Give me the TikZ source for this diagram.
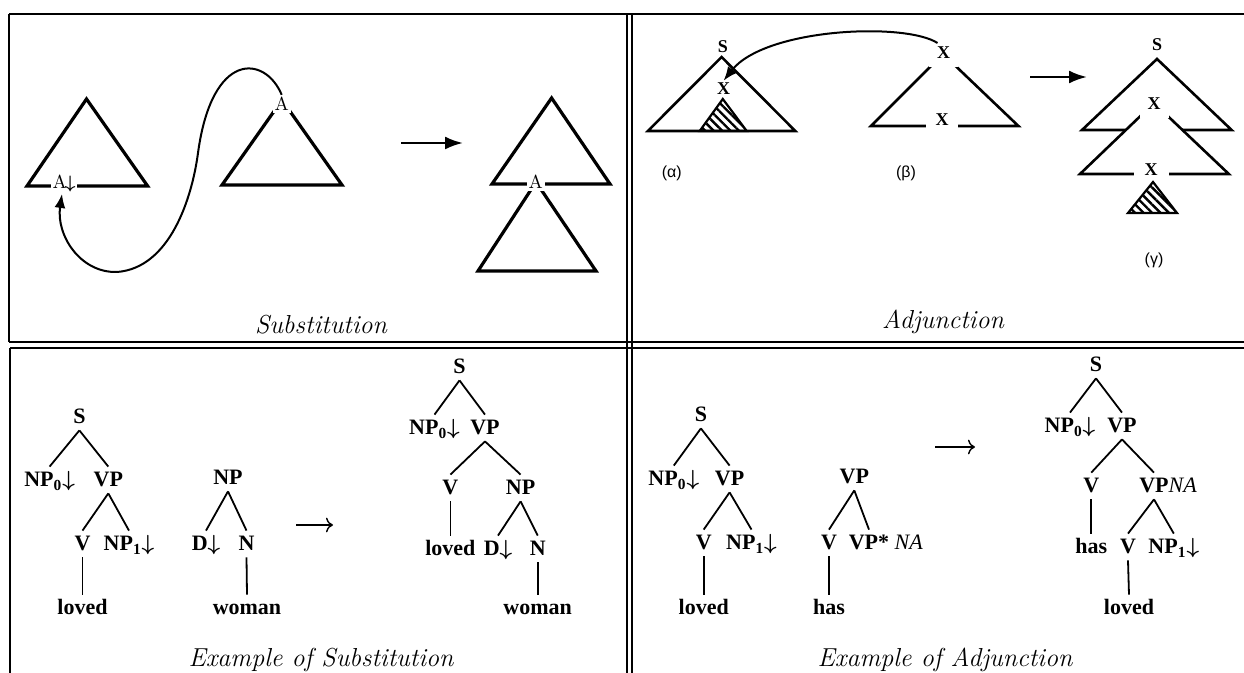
\documentclass[tikz,border=0pt]{standalone}
\usepackage{fontspec}
\usepackage{tikz}
\usetikzlibrary{arrows.meta,patterns.meta}
\newfontfamily\treeFont{Liberation Serif}
\newfontfamily\tagFont{Liberation Sans}
\newcommand{\dnArr}{{\boldmath$\downarrow$}}

\tikzset{
  panelLine/.style={line width=1.1pt},
  bigTri/.style={line width=1.6pt, line join=miter},
  thinTri/.style={line width=1.3pt, line join=miter},
  hatchTri/.style={line width=1.1pt, pattern={Lines[angle=-45,distance=3pt,line width=1.2pt]}},
  schemaA/.style={font=\fontsize{9.5}{11}\selectfont, fill=white, inner sep=1pt},
  schemaX/.style={font=\treeFont\bfseries\fontsize{9}{10}\selectfont, inner sep=1pt},
  maskX/.style={schemaX, fill=white, inner sep=4pt},
  tagLbl/.style={font=\tagFont\fontsize{8}{10}\selectfont},
  capLbl/.style={font=\itshape\fontsize{13}{15}\selectfont},
  treeLbl/.style={font=\treeFont\bfseries\fontsize{11}{13}\selectfont, text height=7.5pt, text depth=0.5pt, inner sep=2.5pt},
  treeEdge/.style={line width=0.9pt},
  fatArr/.style={line width=1.2pt, -{Latex[length=9pt,width=6.5pt]}},
  bendArr/.style={line width=1pt, -{Latex[length=7pt,width=5.5pt]}},
  slimArr/.style={line width=0.7pt, -{To[length=3.5pt]}}
}

\begin{document}
\begin{tikzpicture}[x=0.5pt,y=-0.5pt]
\useasboundingbox (0,0) rectangle (1244,673);

% panel frame
\draw[panelLine] (9,14) -- (1244,14);
\draw[panelLine] (9,342) -- (1244,342);
\draw[panelLine] (10,348) -- (1244,348);
\draw[panelLine] (9,14) -- (9,342);
\draw[panelLine] (10,348) -- (10,673);
\draw[panelLine] (627,14) -- (627,673);
\draw[panelLine] (632,14) -- (632,673);

% substitution, schematic
\draw[bigTri] (86.5,99) -- (147.6,186) -- (27,186) -- cycle;
\draw[bigTri] (282,100) -- (342,185) -- (222,185) -- cycle;
\draw[bigTri] (551.6,98) -- (610,184) -- (492,184) -- cycle;
\draw[bigTri] (536,182) -- (596,271) -- (478,271) -- cycle;
\node[schemaA] (subFoot) at (64,183) {A\kern-1pt\dnArr};
\node[schemaA] (subRoot) at (281.7,104) {A};
\node[schemaA] (subJoin) at (535.7,182) {A};
\coordinate (subArrL) at (401,143);
\coordinate (subArrR) at (463,143);
\draw[fatArr] (subArrL) -- (subArrR);
\draw[bendArr] (subRoot.north) .. controls (265,55) and (212,50) .. (198,153)
  .. controls (192,198) and (170,268) .. (117,272)
  .. controls (80,273) and (56,235) .. ([xshift=-1pt]subFoot.south);
\node[capLbl] (subCap) at (321,325) {Substitution};

% adjunction, schematic
\draw[thinTri] (721.6,57) -- (795.3,131) -- (647.9,131) -- cycle;
\draw[hatchTri] (722.8,99) -- (746.7,131) -- (699.7,131) -- cycle;
\node[schemaX] (alphaS) at (722.8,47) {S};
\node[schemaX] (alphaX) at (723.6,89) {X};
\node[tagLbl] (alphaTag) at (671.8,173) {(α)};

\draw[thinTri] (943,54) -- (1018.4,126) -- (871,126) -- cycle;
\node[maskX] (betaTop) at (943.5,53) {X};
\node[maskX, inner xsep=4.6pt, inner ysep=1pt] (betaFoot) at (942,120) {X};
\node[tagLbl] (betaTag) at (906,173) {(β)};
\draw[bendArr] ([shift={(-3pt,5pt)}]betaTop.center) .. controls (905,22) and (765,28) .. (alphaX.north);

\coordinate (adjArrL) at (1030,77);
\coordinate (adjArrR) at (1087,77);
\draw[fatArr] (adjArrL) -- (adjArrR);

\draw[thinTri] (1157,59) -- (1231.6,130) -- (1082,130) -- cycle;
\draw[thinTri, fill=white] (1154,103) -- (1228.8,174) -- (1080,174) -- cycle;
\node[schemaX] (gammaS) at (1157,45) {S};
\node[maskX] (gammaMid) at (1154,104) {X};
\node[maskX, inner xsep=5.5pt, inner ysep=1pt] (gammaFoot) at (1151,170) {X};
\draw[hatchTri] (1153,182) -- (1177,213) -- (1128,213) -- cycle;
\node[tagLbl] (gammaTag) at (1154,260) {(γ)};
\node[capLbl] (adjCap) at (943,322) {Adjunction};

% example of substitution
\node[treeLbl] (lovS) at (79.4,417) {S};
\node[treeLbl] (lovNPa) at (49.6,480) {NP\textsubscript{0}\dnArr};
\node[treeLbl] (lovVP) at (108.3,480) {VP};
\node[treeLbl] (lovV) at (82.5,544) {V};
\node[treeLbl] (lovNPb) at (129,544) {NP\textsubscript{1}\dnArr};
\node[treeLbl] (lovW) at (82.5,608) {loved};
\draw[treeEdge] (lovS.south) -- (lovNPa.north);
\draw[treeEdge] (lovS.south) -- (lovVP.north);
\draw[treeEdge] (lovVP.south) -- (lovV.north);
\draw[treeEdge] (lovVP.south) -- (lovNPb.north);
\draw[treeEdge] (lovV.south) -- (lovW.north);

\node[treeLbl] (womNP) at (228,478) {NP};
\node[treeLbl] (womD) at (206,544) {D\dnArr};
\node[treeLbl] (womN) at (246.5,544) {N};
\node[treeLbl] (womW) at (247,608) {woman};
\draw[treeEdge] (womNP.south) -- (womD.north);
\draw[treeEdge] (womNP.south) -- (womN.north);
\draw[treeEdge] (womN.south) -- (womW.north);

\coordinate (exSubL) at (296,525);
\coordinate (exSubR) at (333,525);
\draw[slimArr] (exSubL) -- (exSubR);

\node[treeLbl] (resS) at (459.5,367) {S};
\node[treeLbl] (resNPa) at (434.5,428) {NP\textsubscript{0}\dnArr};
\node[treeLbl] (resVP) at (485,428) {VP};
\node[treeLbl] (resV) at (450.4,488) {V};
\node[treeLbl] (resNP) at (520.6,488) {NP};
\node[treeLbl] (resLoved) at (450.4,549) {loved};
\node[treeLbl] (resD) at (498,549) {D\dnArr};
\node[treeLbl] (resN) at (537.7,549) {N};
\node[treeLbl] (resWoman) at (537.7,608) {woman};
\draw[treeEdge] (resS.south) -- (resNPa.north);
\draw[treeEdge] (resS.south) -- (resVP.north);
\draw[treeEdge] (resVP.south) -- (resV.north);
\draw[treeEdge] (resVP.south) -- (resNP.north);
\draw[treeEdge] (resV.south) -- (resLoved.north);
\draw[treeEdge] (resNP.south) -- (resD.north);
\draw[treeEdge] (resNP.south) -- (resN.north);
\draw[treeEdge] (resN.south) -- (resWoman.north);
\node[capLbl] (exSubCap) at (321,660) {Example of Substitution};

% example of adjunction
\node[treeLbl] (adjS) at (700.9,415) {S};
\node[treeLbl] (adjNPa) at (673.8,479) {NP\textsubscript{0}\dnArr};
\node[treeLbl] (adjVP) at (729.6,479) {VP};
\node[treeLbl] (adjV) at (703.7,543) {V};
\node[treeLbl] (adjNPb) at (751.5,543) {NP\textsubscript{1}\dnArr};
\node[treeLbl] (adjLoved) at (703.7,608) {loved};
\draw[treeEdge] (adjS.south) -- (adjNPa.north);
\draw[treeEdge] (adjS.south) -- (adjVP.north);
\draw[treeEdge] (adjVP.south) -- (adjV.north);
\draw[treeEdge] (adjVP.south) -- (adjNPb.north);
\draw[treeEdge] (adjV.south) -- (adjLoved.north);

\node[treeLbl] (auxVP) at (854.3,477) {VP};
\node[treeLbl] (auxV) at (829,543) {V};
\node[treeLbl] (auxFoot) at (869,543) {VP*\rlap{ \mdseries\itshape NA}};
\node[treeLbl] (auxHas) at (829,608) {has};
\draw[treeEdge] (auxVP.south) -- (auxV.north);
\draw[treeEdge] (auxVP.south) -- (auxFoot.north);
\draw[treeEdge] (auxV.south) -- (auxHas.north);

\coordinate (exAdjL) at (935,447);
\coordinate (exAdjR) at (975,447);
\draw[slimArr] (exAdjL) -- (exAdjR);

\node[treeLbl] (derS) at (1096,365) {S};
\node[treeLbl] (derNPa) at (1070,426) {NP\textsubscript{0}\dnArr};
\node[treeLbl] (derVP) at (1122,426) {VP};
\node[treeLbl] (derV) at (1091.3,486) {V};
\node[treeLbl] (derVPna) at (1154,486) {VP\rlap{\mdseries\itshape NA}};
\node[treeLbl] (derHas) at (1091.3,547) {has};
\node[treeLbl] (derVb) at (1128,547) {V};
\node[treeLbl] (derNPb) at (1173.8,547) {NP\textsubscript{1}\dnArr};
\node[treeLbl] (derLoved) at (1129,608) {loved};
\draw[treeEdge] (derS.south) -- (derNPa.north);
\draw[treeEdge] (derS.south) -- (derVP.north);
\draw[treeEdge] (derVP.south) -- (derV.north);
\draw[treeEdge] (derVP.south) -- (derVPna.north);
\draw[treeEdge] (derV.south) -- (derHas.north);
\draw[treeEdge] (derVPna.south) -- (derVb.north);
\draw[treeEdge] (derVPna.south) -- (derNPb.north);
\draw[treeEdge] (derVb.south) -- (derLoved.north);
\node[capLbl] (exAdjCap) at (945,660) {Example of Adjunction};
\end{tikzpicture}
\end{document}
